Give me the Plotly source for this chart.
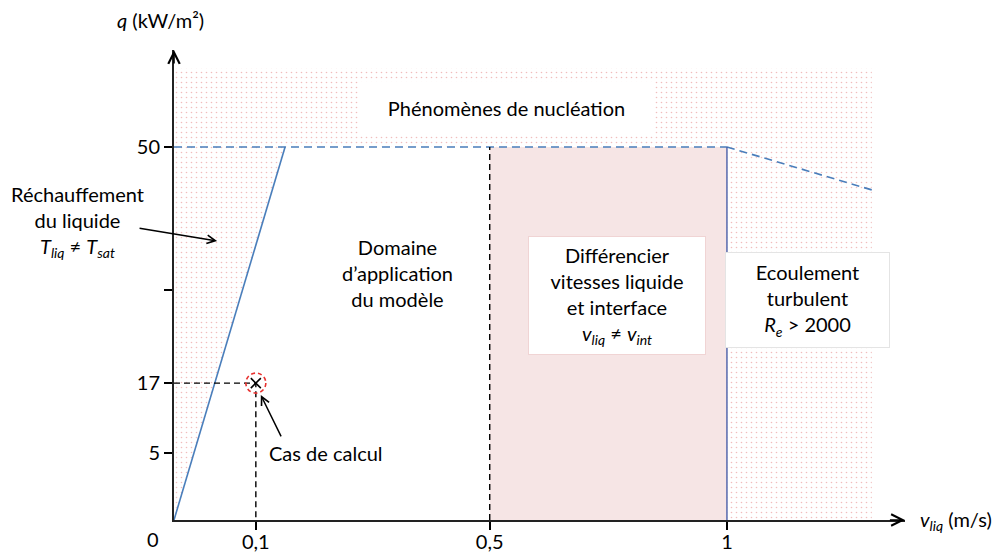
import numpy as np
import plotly.graph_objects as go

# ---- values (physical units) ----
V_TICKS = [0.1, 0.5, 1.0]            # v_liq ticks (m/s)
V_LABELS = ["0,1", "0,5", "1"]
Q_TICKS = [5, 17, 30, 50]            # q ticks (kW/m²)
Q_LABELS = ["5", "17", "", "50"]

V_RISE = [0.0, 0.15]                 # liquid heating limit
Q_RISE = [0.0, 50.0]
V_PLATEAU = [0.0, 1.0]               # nucleation threshold
Q_PLATEAU = [50.0, 50.0]
V_DECAY = [1.0, 1.3]                 # threshold in turbulent flow
Q_DECAY = [50.0, 44.0]
V_CASE, Q_CASE = 0.1, 17.0           # computed case
V_MODEL_MAX = 0.5                    # upper velocity of model domain
V_TURB = 1.0                         # turbulence onset
V_END, Q_END = 1.3, 60.0             # extent of the diagram

# ---- schematic (non-linear) scale: value -> axis position ----
V_ANCHOR = [0.0, 0.1, 0.5, 1.0, 1.3]
X_POS = [0.0, 0.148, 0.571, 1.0, 1.262]
Q_ANCHOR = [0.0, 5.0, 17.0, 50.0, 60.0]
Y_POS = [0.0, 0.180, 0.367, 1.0, 1.212]
X_MAX, Y_MAX = 1.322, 1.260


def sx(v):
    return np.interp(np.asarray(v, dtype=float), V_ANCHOR, X_POS)


def sy(q):
    return np.interp(np.asarray(q, dtype=float), Q_ANCHOR, Y_POS)


def px(x):
    """axis position -> paper fraction (allows labels outside the axes)"""
    return x / X_MAX


def py(y):
    return y / Y_MAX


FONT = "Lato"
FS = 20
BLUE = "#4a7ebb"
DOT = "#e27b7b"
PINK = "#f6e5e5"

fig = go.Figure()

# dotted background over the whole diagram
x0, x1 = sx(0), sx(V_END)
y0, y1 = sy(0), sy(Q_END)
fig.add_trace(go.Scatter(
    x=[x0, x1, x1, x0, x0], y=[y0, y0, y1, y1, y0],
    mode="lines", line=dict(width=0), fill="toself", fillcolor="white",
    fillpattern=dict(shape=".", fgcolor=DOT, bgcolor="white", size=5, solidity=0.08),
    hoverinfo="skip", showlegend=False))

# model application domain (white)
fig.add_trace(go.Scatter(
    x=[sx(0), sx(V_RISE[1]), sx(V_MODEL_MAX), sx(V_MODEL_MAX), sx(0)],
    y=[sy(0), sy(Q_RISE[1]), sy(50), sy(0), sy(0)],
    mode="lines", line=dict(width=0), fill="toself", fillcolor="white",
    hoverinfo="skip", showlegend=False))

# liquid / interface velocity region (pink)
fig.add_trace(go.Scatter(
    x=[sx(V_MODEL_MAX), sx(V_TURB), sx(V_TURB), sx(V_MODEL_MAX), sx(V_MODEL_MAX)],
    y=[sy(0), sy(0), sy(50), sy(50), sy(0)],
    mode="lines", line=dict(width=0), fill="toself", fillcolor=PINK,
    hoverinfo="skip", showlegend=False))

# boundaries
fig.add_trace(go.Scatter(x=sx(V_RISE), y=sy(Q_RISE), mode="lines",
                         line=dict(color=BLUE, width=1.6), showlegend=False))
fig.add_trace(go.Scatter(x=sx(V_PLATEAU), y=sy(Q_PLATEAU), mode="lines",
                         line=dict(color=BLUE, width=1.6, dash="8px,5px"), showlegend=False))
fig.add_trace(go.Scatter(x=sx(V_DECAY), y=sy(Q_DECAY), mode="lines",
                         line=dict(color=BLUE, width=1.6, dash="8px,5px"), showlegend=False))
fig.add_trace(go.Scatter(x=sx([V_MODEL_MAX, V_MODEL_MAX]), y=sy([0, 50]), mode="lines",
                         line=dict(color="black", width=1.4, dash="6px,4px"), showlegend=False))
fig.add_trace(go.Scatter(x=sx([V_TURB, V_TURB]), y=sy([0, 50]), mode="lines",
                         line=dict(color="#4a5fa8", width=1.4), showlegend=False))

# computed case guides and marker
fig.add_trace(go.Scatter(x=sx([0, V_CASE, V_CASE]), y=sy([Q_CASE, Q_CASE, 0]), mode="lines",
                         line=dict(color="black", width=1.4, dash="6px,4px"), showlegend=False))
fig.add_trace(go.Scatter(x=sx([V_CASE]), y=sy([Q_CASE]), mode="markers",
                         marker=dict(symbol="x-thin", size=10, line=dict(color="black", width=1.6)),
                         showlegend=False))
fig.add_shape(type="circle", xref="x", yref="y", xsizemode="pixel", ysizemode="pixel",
              xanchor=float(sx(V_CASE)), yanchor=float(sy(Q_CASE)),
              x0=-10, x1=10, y0=-10, y1=10,
              line=dict(color="#e8312f", width=1.6, dash="4px,3px"))

ann = []
# axis arrowheads
ann.append(dict(x=X_MAX, y=0, ax=X_MAX - 0.03, ay=0, xref="x", yref="y", axref="x", ayref="y",
                showarrow=True, arrowhead=5, arrowsize=1.4, arrowwidth=1.6, arrowcolor="black", text=""))
ann.append(dict(x=0, y=Y_MAX, ax=0, ay=Y_MAX - 0.04, xref="x", yref="y", axref="x", ayref="y",
                showarrow=True, arrowhead=5, arrowsize=1.4, arrowwidth=1.6, arrowcolor="black", text=""))

txt = dict(family=FONT, size=FS, color="black")
mid = dict(xanchor="center", yanchor="middle", showarrow=False, font=txt)

# axis titles and origin (paper refs so they may sit outside the axes)
ann.append(dict(x=px(-0.025), y=py(1.340), xref="paper", yref="paper",
                text="<i>q</i> (kW/m²)", **mid))
ann.append(dict(x=px(1.345), y=py(0.0), xref="paper", yref="paper",
                text="<i>v<sub>liq</sub></i> (m/s)", showarrow=False, xanchor="left",
                yanchor="middle", font=txt))
ann.append(dict(x=px(-0.038), y=py(-0.050), xref="paper", yref="paper", text="0", **mid))

# region labels
ann.append(dict(x=0.602, y=1.105, xref="x", yref="y", text="Phénomènes de nucléation",
                bgcolor="white", width=293, height=50, **mid))
ann.append(dict(x=0.405, y=0.662, xref="x", yref="y",
                text="Domaine<br>d’application<br>du modèle", **mid))
ann.append(dict(x=0.801, y=0.603, xref="x", yref="y",
                text="Différencier<br>vitesses liquide<br>et interface<br><i>v<sub>liq</sub></i> ≠ <i>v<sub>int</sub></i>",
                bgcolor="white", bordercolor="#f0d4d4", borderwidth=1,
                width=174, height=115, **mid))
ann.append(dict(x=1.146, y=0.590, xref="x", yref="y",
                text="Ecoulement<br>turbulent<br><i>R<sub>e</sub></i> > 2000",
                bgcolor="white", bordercolor="#e4e4e4", borderwidth=1,
                width=161, height=92, **mid))
ann.append(dict(x=px(-0.175), y=py(0.799), xref="paper", yref="paper",
                text="Réchauffement<br>du liquide<br><i>T<sub>liq</sub></i> ≠ <i>T<sub>sat</sub></i>", **mid))
ann.append(dict(x=0.078, y=0.748, ax=-0.065, ay=0.783, xref="x", yref="y", axref="x", ayref="y",
                text="", showarrow=True, arrowhead=5, arrowsize=1.1, arrowwidth=1.5, arrowcolor="black"))
ann.append(dict(x=0.275, y=0.180, xref="x", yref="y", text="Cas de calcul", **mid))
ann.append(dict(x=0.157, y=0.335, ax=0.195, ay=0.220, xref="x", yref="y", axref="x", ayref="y",
                text="", showarrow=True, arrowhead=5, arrowsize=1.1, arrowwidth=1.5, arrowcolor="black"))

axis_common = dict(showgrid=False, zeroline=False, automargin=False,
                   showline=True, linecolor="#222", linewidth=2,
                   tickmode="array", ticks="outside", ticklen=8, tickwidth=1.5, tickcolor="black",
                   tickfont=dict(family=FONT, size=FS, color="black"))

fig.update_layout(
    width=998, height=553,
    margin=dict(l=174, r=93, t=50, b=33),
    paper_bgcolor="white", plot_bgcolor="white",
    font=dict(family=FONT, size=FS, color="black"),
    showlegend=False,
    annotations=ann,
    xaxis=dict(range=[0, X_MAX], tickvals=sx(V_TICKS).tolist(), ticktext=V_LABELS,
               ticklabelstandoff=-5, **axis_common),
    yaxis=dict(range=[0, Y_MAX], tickvals=sy(Q_TICKS).tolist(), ticktext=Q_LABELS, **axis_common),
)

fig.write_html("out.html")
